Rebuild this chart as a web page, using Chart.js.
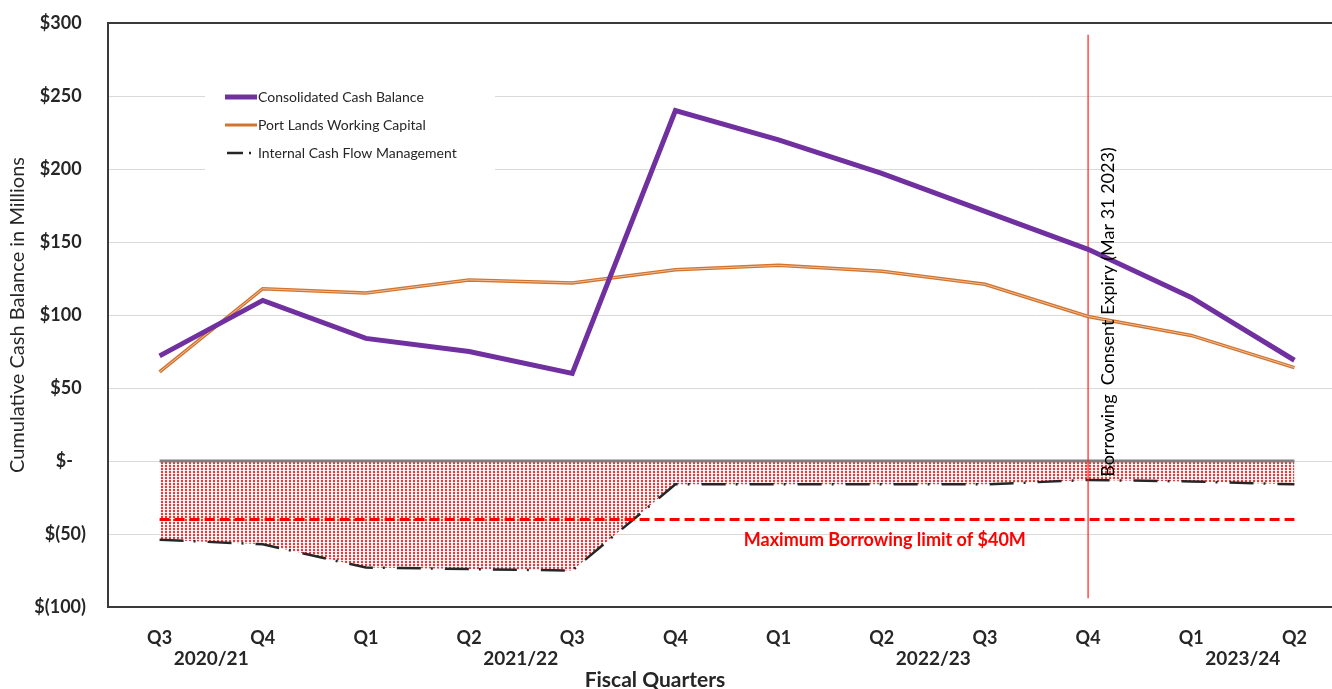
<!DOCTYPE html>
<html>
<head>
<meta charset="utf-8">
<title>Cumulative Cash Balance</title>
<script src="https://cdn.jsdelivr.net/npm/chart.js@4/dist/chart.umd.min.js"></script>
<style>
  html, body { margin: 0; padding: 0; background: #ffffff; overflow: hidden; }
  #wrap { width: 1332px; height: 689px; overflow: hidden; }
  canvas { display: block; }
</style>
</head>
<body>
<div id="wrap"><canvas id="chart" width="1348" height="689"></canvas></div>
<script>
// Quarter labels and the fiscal year each quarter belongs to
const quarterLabels = ['Q3', 'Q4', 'Q1', 'Q2', 'Q3', 'Q4', 'Q1', 'Q2', 'Q3', 'Q4', 'Q1', 'Q2'];
const fiscalYears = ['2020/21', '2020/21', '2021/22', '2021/22', '2021/22', '2021/22',
                     '2022/23', '2022/23', '2022/23', '2022/23', '2023/24', '2023/24'];

// Series values ($ millions)
const consolidatedCash = [72, 110, 84, 75, 60, 240, 220, 197, 171, 145, 112, 69];
const portLandsCapital = [61, 118, 115, 124, 122, 131, 134, 130, 121, 99, 86, 64];
const internalCashFlow = [-54, -57, -73, -74, -75, -16, -16, -16, -16, -13, -14, -16];
const zeroBaseline = [0, 0, 0, 0, 0, 0, 0, 0, 0, 0, 0, 0];
const borrowingLimit = [-40, -40, -40, -40, -40, -40, -40, -40, -40, -40, -40, -40];

// Borrowing consent expiry marker (quarter index, value range, label anchor)
const consentExpiryIndex = 9;
const consentExpiryRange = [292, -94];
const consentLabelValue = 102;
const consentExpiryText = 'Borrowing  Consent Expiry (Mar 31 2023)';
const limitText = 'Maximum Borrowing limit of $40M';

// Y axis ticks
const yTickValues = [300, 250, 200, 150, 100, 50, 0, -50, -100];
const yTickLabels = ['$300 ', '$250 ', '$200 ', '$150 ', '$100 ', '$50 ', '$-   ', '$(50)', '$(100)'];

const FONT = "Lato, 'Liberation Sans', Arial, sans-serif";
const TEXT = '#262626';

const toPoints = arr => arr.map((v, i) => ({ x: i, y: v }));

// red dotted pattern for the borrowing area
function dotPattern() {
  const c = document.createElement('canvas');
  c.width = 4; c.height = 3;
  const g = c.getContext('2d');
  g.fillStyle = '#ffffff';
  g.fillRect(0, 0, 4, 3);
  g.fillStyle = '#ffd6d6';
  g.fillRect(1, 2, 2, 1);
  g.fillStyle = '#ff3030';
  g.fillRect(1, 0, 2, 2);
  return g.createPattern(c, 'repeat');
}

// year label groups: centre of the quarters in each fiscal year
function yearGroups() {
  const groups = [];
  fiscalYears.forEach((y, i) => {
    const last = groups[groups.length - 1];
    if (last && last.label === y) last.end = i;
    else groups.push({ label: y, start: i, end: i });
  });
  return groups;
}
const groups = yearGroups();

const legendItems = [
  { label: 'Consolidated Cash Balance', color: '#7030A0', width: 5, kind: 'solid' },
  { label: 'Port Lands Working Capital', color: '#D0742F', width: 3, kind: 'solid' },
  { label: 'Internal Cash Flow Management', color: '#262626', width: 2.5, kind: 'dashdot' }
];

const decorations = {
  id: 'decorations',
  beforeDatasetsDraw(chart) {
    const ctx = chart.ctx;
    // legend background
    ctx.save();
    ctx.fillStyle = '#ffffff';
    ctx.fillRect(205, 80, 290, 92);
    ctx.restore();
  },
  afterDatasetsDraw(chart) {
    const ctx = chart.ctx;
    const { left, right, top, bottom } = chart.chartArea;
    const xs = chart.scales.x, ys = chart.scales.y;
    ctx.save();

    // plot frame
    ctx.strokeStyle = '#3a3a3a';
    ctx.lineWidth = 2;
    ctx.strokeRect(left, top, right - left, bottom - top);

    // legend
    ctx.font = '14px ' + FONT;
    ctx.textBaseline = 'middle';
    ctx.textAlign = 'left';
    legendItems.forEach((it, i) => {
      const y = 97 + i * 28;
      ctx.strokeStyle = it.color;
      ctx.lineWidth = it.width;
      ctx.lineCap = 'butt';
      ctx.beginPath();
      if (it.kind === 'solid') {
        ctx.moveTo(225, y); ctx.lineTo(257, y);
      } else {
        ctx.moveTo(227, y); ctx.lineTo(243, y);
        ctx.moveTo(249, y); ctx.lineTo(251, y);
      }
      ctx.stroke();
      ctx.fillStyle = TEXT;
      ctx.fillText(it.label, 258, y);
    });

    // consent expiry label
    ctx.save();
    ctx.translate(xs.getPixelForValue(consentExpiryIndex) + 20, ys.getPixelForValue(consentLabelValue));
    ctx.rotate(-Math.PI / 2);
    ctx.font = '18px ' + FONT;
    ctx.fillStyle = '#000000';
    ctx.textAlign = 'center';
    ctx.textBaseline = 'middle';
    ctx.fillText(consentExpiryText, 0, 0);
    ctx.restore();

    // borrowing limit label
    ctx.font = 'bold 18px ' + FONT;
    ctx.fillStyle = '#FF0000';
    ctx.textAlign = 'center';
    ctx.textBaseline = 'middle';
    ctx.fillText(limitText, xs.getPixelForValue(7.03), ys.getPixelForValue(-54));

    // fiscal years under the quarters
    ctx.font = 'bold 19px ' + FONT;
    ctx.fillStyle = TEXT;
    groups.forEach(g => {
      const cx = (xs.getPixelForValue(g.start) + xs.getPixelForValue(g.end)) / 2;
      ctx.fillText(g.label, cx, 659);
    });

    // x axis title
    ctx.font = 'bold 21px ' + FONT;
    ctx.fillText('Fiscal Quarters', 655, 680);
    ctx.restore();
  }
};

const ctx = document.getElementById('chart').getContext('2d');
new Chart(ctx, {
  type: 'line',
  data: {
    datasets: [
      {
        label: 'Consolidated Cash Balance',
        data: toPoints(consolidatedCash),
        borderColor: '#7030A0',
        borderWidth: 5,
        pointRadius: 0,
        tension: 0
      },
      {
        label: 'Port Lands Working Capital (highlight)',
        data: toPoints(portLandsCapital),
        borderColor: 'rgba(246,196,160,0.9)',
        borderWidth: 1,
        pointRadius: 0
      },
      {
        label: 'Port Lands Working Capital',
        data: toPoints(portLandsCapital),
        borderColor: '#D0742F',
        borderWidth: 3.5,
        pointRadius: 0
      },
      {
        label: 'Consent Expiry',
        data: consentExpiryRange.map(v => ({ x: consentExpiryIndex, y: v })),
        borderColor: '#FF2020',
        borderWidth: 1.2,
        pointRadius: 0
      },
      {
        label: 'Maximum Borrowing Limit',
        data: toPoints(borrowingLimit),
        borderColor: '#FF0000',
        borderWidth: 3,
        borderDash: [10, 5],
        pointRadius: 0
      },
      {
        label: 'Zero',
        data: toPoints(zeroBaseline),
        borderColor: '#7F7F7F',
        borderWidth: 3,
        pointRadius: 0
      },
      {
        label: 'Internal Cash Flow Management',
        data: toPoints(internalCashFlow),
        borderColor: '#262626',
        borderWidth: 2.5,
        borderDash: [24, 10, 2, 12],
        pointRadius: 0,
        fill: 'origin',
        backgroundColor: dotPattern()
      }
    ]
  },
  options: {
    responsive: false,
    animation: false,
    devicePixelRatio: 1,
    layout: { padding: { top: 23, right: 2, left: 0, bottom: 0 } },
    plugins: {
      legend: { display: false },
      tooltip: { enabled: false },
      filler: { propagate: false }
    },
    scales: {
      x: {
        type: 'linear',
        min: -0.5,
        max: 11.5,
        weight: 0,
        afterBuildTicks(scale) {
          scale.ticks = quarterLabels.map((_, i) => ({ value: i }));
        },
        afterFit(scale) {
          scale.height = 82;
          scale.paddingLeft = 0;
          scale.paddingRight = 0;
        },
        grid: { display: false, drawTicks: false },
        border: { display: false },
        ticks: {
          autoSkip: false,
          maxRotation: 0,
          padding: 20,
          color: TEXT,
          font: { family: FONT, size: 18, weight: 'bold' },
          callback: v => quarterLabels[v]
        }
      },
      y: {
        type: 'linear',
        min: -100,
        max: 300,
        afterBuildTicks(scale) {
          scale.ticks = yTickValues.map(v => ({ value: v }));
        },
        afterFit(scale) {
          scale.width = 108;
          scale.paddingTop = 0;
          scale.paddingBottom = 0;
        },
        grid: { color: '#D9D9D9', lineWidth: 1, drawTicks: false },
        border: { display: false },
        ticks: {
          padding: 22,
          color: TEXT,
          font: { family: FONT, size: 18, weight: 'bold' },
          callback: v => yTickLabels[yTickValues.indexOf(v)]
        },
        title: {
          display: true,
          text: 'Cumulative Cash Balance in Millions',
          color: TEXT,
          font: { family: FONT, size: 20 },
          padding: { top: 6, bottom: 0 }
        }
      }
    }
  },
  plugins: [decorations]
});
</script>
</body>
</html>
